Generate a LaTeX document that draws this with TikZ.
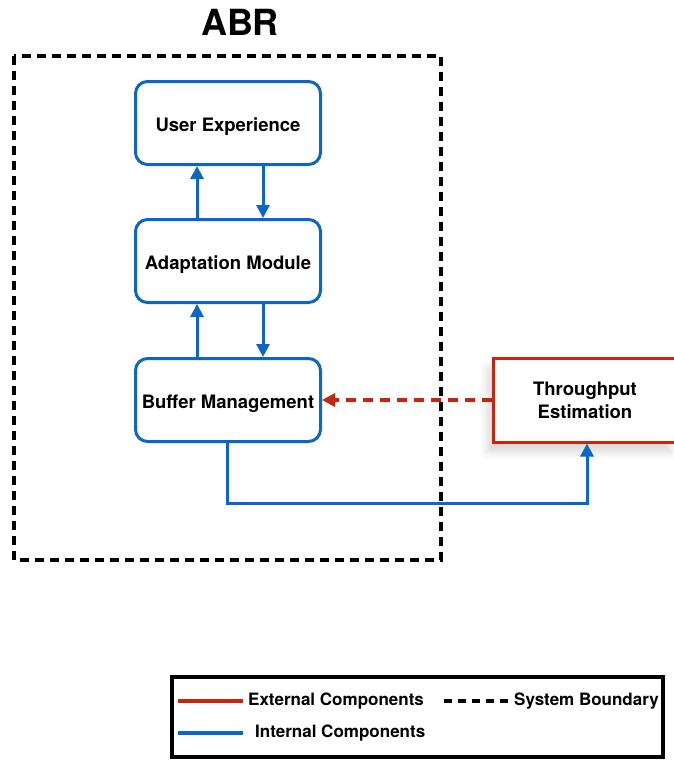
\documentclass[tikz,border=0pt]{standalone}
\usepackage{fontspec}
\setmainfont{TeX Gyre Heros}
\usetikzlibrary{arrows.meta,shadows.blur}
\definecolor{abrblue}{RGB}{12,102,196}
\definecolor{abrred}{RGB}{200,38,10}
\begin{document}
\begin{tikzpicture}[x=1pt,y=-1pt,
    comp/.style={draw=abrblue,line width=3pt,rounded corners=12pt,fill=white,
      minimum width=185pt,minimum height=83pt,align=center,
      text height=16pt,text depth=0pt,
      font=\bfseries\fontsize{18.5}{23}\selectfont},
    extcomp/.style={draw=abrred,line width=3pt,fill=white,
      minimum width=183pt,minimum height=84pt,align=center,
      font=\bfseries\fontsize{18.5}{23}\selectfont,
      blur shadow={shadow xshift=-6pt,shadow yshift=-10pt,shadow opacity=15,shadow blur radius=8pt}},
    flow/.style={draw=abrblue,line width=3pt,-{Triangle[length=13pt,width=13pt]}},
    feed/.style={draw=abrred,line width=3.5pt,dash pattern=on 10pt off 7pt,
      -{Triangle[length=13pt,width=13pt]}},
    boundary/.style={draw=black,line width=4pt,dash pattern=on 9pt off 6pt},
    key/.style={anchor=west,inner sep=0pt,font=\bfseries\fontsize{17}{20}\selectfont}]
    \useasboundingbox (0,0) rectangle (673,760);
    % system boundary
    \node[font=\bfseries\fontsize{36}{40}\selectfont] (abr) at (240,22) {ABR};
    \draw[boundary] (14,56) rectangle (441,560);
    % components
    \node[comp] (ue) at (228,123) {User Experience};
    \node[comp] (am) at (228,261) {Adaptation Module};
    \node[comp] (bm) at (228,400) {Buffer Management};
    \node[extcomp] (tp) at (585,400) {Throughput\\Estimation};
    % arrows
    \draw[flow] ([xshift=-31pt]am.north) -- ([xshift=-31pt]ue.south);
    \draw[flow] ([xshift=35pt]ue.south) -- ([xshift=35pt]am.north);
    \draw[flow] ([xshift=-31pt]bm.north) -- ([xshift=-31pt]am.south);
    \draw[flow] ([xshift=35pt]am.south) -- ([xshift=35pt]bm.north);
    \draw[feed] (tp.west) -- (bm.east);
    \draw[flow] ([xshift=-1pt]bm.south) -- ++(0,60) -| ([xshift=2pt]tp.south);
    % legend
    \draw[line width=4pt] (172,677) rectangle (663,757);
    \node[key] (ext) at (248,701) {External Components};
    \draw[abrred,line width=3.5pt] ([xshift=-5pt]ext.west) -- ++(-65,0);
    \node[key] (sys) at (514,701) {System Boundary};
    \draw[line width=3.5pt,dash pattern=on 8pt off 6pt] ([xshift=-6pt]sys.west) -- ++(-64,0);
    \node[key] (int) at (255,733) {Internal Components};
    \draw[abrblue,line width=3.5pt] ([xshift=-12pt]int.west) -- ++(-65,0);
\end{tikzpicture}
\end{document}
